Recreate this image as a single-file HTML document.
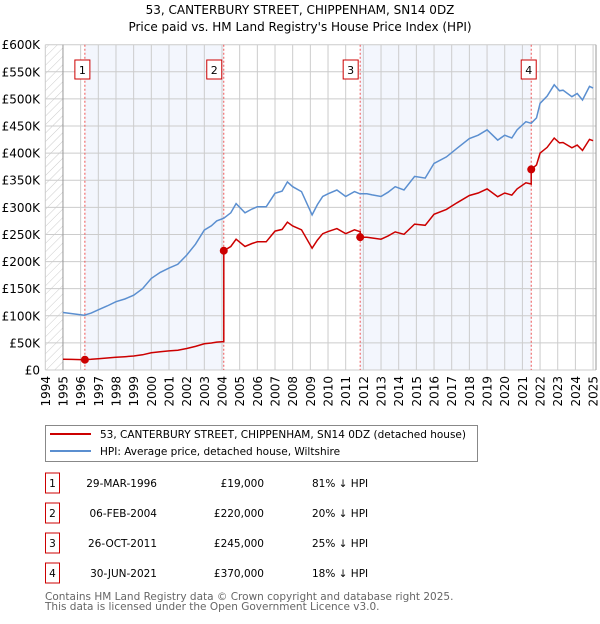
<!DOCTYPE html>
<html><head><meta charset="utf-8"><style>
body{margin:0;background:#fff;font-family:"DejaVu Sans","Liberation Sans",sans-serif;}
svg text{font-family:"DejaVu Sans","Liberation Sans",sans-serif;}
</style></head><body>
<svg id="chart" width="600" height="620" xmlns="http://www.w3.org/2000/svg">
<text x="300" y="14" text-anchor="middle" font-size="12">53, CANTERBURY STREET, CHIPPENHAM, SN14 0DZ</text>
<text x="300" y="31" text-anchor="middle" font-size="12">Price paid vs. HM Land Registry's House Price Index (HPI)</text>
<defs><pattern id="hatch" width="6" height="6" patternUnits="userSpaceOnUse" patternTransform="rotate(45)"><line x1="0" y1="0" x2="0" y2="6" stroke="#ccc" stroke-width="1"/></pattern></defs>
<g id="plot"></g>
<g>
<rect x="45.5" y="425.5" width="432" height="36" fill="#fff" stroke="#888"/>
<line x1="50" y1="434" x2="91" y2="434" stroke="#cc0000" stroke-width="2"/>
<text x="100" y="438" font-size="10.5">53, CANTERBURY STREET, CHIPPENHAM, SN14 0DZ (detached house)</text>
<line x1="50" y1="451" x2="91" y2="451" stroke="#5b8fd0" stroke-width="2"/>
<text x="100" y="455" font-size="10.5">HPI: Average price, detached house, Wiltshire</text>
</g>
<g id="table" font-size="10.5"></g>
<text x="45" y="600" font-size="10.5" fill="#666">Contains HM Land Registry data © Crown copyright and database right 2025.</text>
<text x="45" y="610" font-size="10.5" fill="#666">This data is licensed under the Open Government Licence v3.0.</text>
</svg>
<script>
const hpiYears=[1995,1995.5,1996.2,1996.6,1997,1997.5,1998,1998.5,1999,1999.5,2000,2000.5,2001,2001.5,2002,2002.5,2003,2003.4,2003.7,2004.1,2004.5,2004.8,2005.3,2005.7,2006,2006.5,2007,2007.4,2007.7,2008,2008.5,2009.1,2009.4,2009.7,2010,2010.5,2011,2011.5,2011.8,2012.2,2012.5,2013,2013.4,2013.8,2014.3,2014.9,2015.5,2016,2016.7,2017.3,2018,2018.5,2019,2019.6,2020,2020.4,2020.7,2021.2,2021.5,2021.8,2022,2022.4,2022.8,2023.1,2023.3,2023.8,2024.1,2024.4,2024.8,2025];
const hpiValues=[106,104,101,105,111,118,126,131,138,150,169,180,188,195,212,232,258,266,275,280,290,307,290,297,301,301,326,330,347,338,329,286,305,320,325,332,320,329,325,325,323,320,328,338,332,357,354,381,393,409,427,433,443,424,433,428,443,458,455,465,492,505,526,515,516,504,510,498,523,520];
const saleYears=[1996.24,2004.1,2011.82,2021.5];
const salePrices=[19,220,245,370];
const saleLabels=["1","2","3","4"];
const saleDates=["29-MAR-1996","06-FEB-2004","26-OCT-2011","30-JUN-2021"];
const salePriceText=["£19,000","£220,000","£245,000","£370,000"];
const saleDiff=["81% ↓ HPI","20% ↓ HPI","25% ↓ HPI","18% ↓ HPI"];
const yTicks=[0,50,100,150,200,250,300,350,400,450,500,550,600];
const yTickLabels=["£0","£50K","£100K","£150K","£200K","£250K","£300K","£350K","£400K","£450K","£500K","£550K","£600K"];
const xTicks=[1994,1995,1996,1997,1998,1999,2000,2001,2002,2003,2004,2005,2006,2007,2008,2009,2010,2011,2012,2013,2014,2015,2016,2017,2018,2019,2020,2021,2022,2023,2024,2025];

const X0=45.3,X1=596,Y0=370,Y1=44.7;
const xs=y=>X0+(y-1994)*17.67;
const ys=v=>Y0-(v/600)*(Y0-Y1);
const NS="http://www.w3.org/2000/svg";
const plot=document.getElementById('plot');
function mk(tag,attrs,parent){const e=document.createElementNS(NS,tag);for(const k in attrs)e.setAttribute(k,attrs[k]);(parent||plot).appendChild(e);return e;}
function hpiAt(y){for(let i=1;i<hpiYears.length;i++){if(y<=hpiYears[i]){const t=(y-hpiYears[i-1])/(hpiYears[i]-hpiYears[i-1]);return hpiValues[i-1]+t*(hpiValues[i]-hpiValues[i-1]);}}return hpiValues[hpiValues.length-1];}

for(let i=0;i<saleYears.length;i+=2){
 const b=mk('rect',{x:xs(saleYears[i]),y:Y1,width:xs(saleYears[i+1])-xs(saleYears[i]),height:Y0-Y1,fill:'#f3f6fd'});
 
 
}
const h1=mk('rect',{x:X0,y:Y1,width:xs(1995)-X0,height:Y0-Y1,fill:'url(#hatch)'});


yTicks.forEach((v,i)=>{
 const g=mk('line',{x1:X0,x2:X1,y1:ys(v),y2:ys(v),stroke:'#ccc','stroke-width':1});
 
 
 const t=mk('text',{x:40,y:ys(v)+4.5,'text-anchor':'end','font-size':12});
 t.textContent=yTickLabels[i];
 
 
});
xTicks.forEach(y=>{
 const g=mk('line',{x1:xs(y),x2:xs(y),y1:Y1,y2:Y0,stroke:'#ccc','stroke-width':1});
 
 
 const t=mk('text',{x:xs(y)+4.5,y:376,'text-anchor':'end','font-size':12,transform:`rotate(-90 ${xs(y)+4.5} 376)`});
 t.textContent=y;
 
 
});
mk('line',{x1:xs(1995),x2:xs(1995),y1:Y1,y2:Y0,stroke:'#999'});
mk('line',{x1:X1,x2:X1,y1:Y1,y2:Y0,stroke:'#999'});
saleYears.forEach((y,i)=>{
 const l=mk('line',{x1:xs(y),x2:xs(y),y1:Y1,y2:Y0,stroke:'#e55','stroke-width':1,'stroke-dasharray':'2,2'});
 
 
 const r=mk('rect',{x:xs(y)-(i==0?3:i==1?10:i==2?10:3)-7,y:60,width:15,height:19,fill:'#fff',stroke:'#cc0000'});
 
 
 const t=mk('text',{x:+r.getAttribute('x')+7.5,y:74,'text-anchor':'middle','font-size':11});
 t.textContent=saleLabels[i];
 
 
});
const hp=hpiYears.map((y,i)=>`${xs(y).toFixed(1)},${ys(hpiValues[i]).toFixed(1)}`).join(' ');
const hl=mk('polyline',{points:hp,fill:'none',stroke:'#5b8fd0','stroke-width':1.5});


let pts=[];
const segStart=[1995,...saleYears.slice(1)];
const segEnd=[...saleYears.slice(1),2025];
for(let s=0;s<saleYears.length;s++){
 const ratio=salePrices[s]/hpiAt(saleYears[s]);
 const yrs=[segStart[s],...hpiYears.filter(y=>y>segStart[s]&&y<segEnd[s]),segEnd[s]];
 yrs.forEach(y=>pts.push(`${xs(y).toFixed(1)},${ys(ratio*hpiAt(y)).toFixed(1)}`));
}
const pl=mk('polyline',{points:pts.join(' '),fill:'none',stroke:'#cc0000','stroke-width':1.5});


saleYears.forEach((y,i)=>{
 const c=mk('circle',{cx:xs(y),cy:ys(salePrices[i]),r:4,fill:'#cc0000'});
 
 
});
const tbl=document.getElementById('table');
saleYears.forEach((y,i)=>{
 const cy=483+i*30;
 const r=mk('rect',{x:45.5,y:cy-10,width:14,height:20,fill:'#fff',stroke:'#cc0000'},tbl);
 
 
 const cells=[[52.5,'middle',saleLabels[i]],[157,'end',saleDates[i]],[264,'end',salePriceText[i]],[312,'start',saleDiff[i]]];
 cells.forEach(c=>{
  const t=mk('text',{x:c[0],y:cy+4,'text-anchor':c[1],'font-size':10.5},tbl);
  t.textContent=c[2];
  
  
 });
});
</script>
</body></html>
